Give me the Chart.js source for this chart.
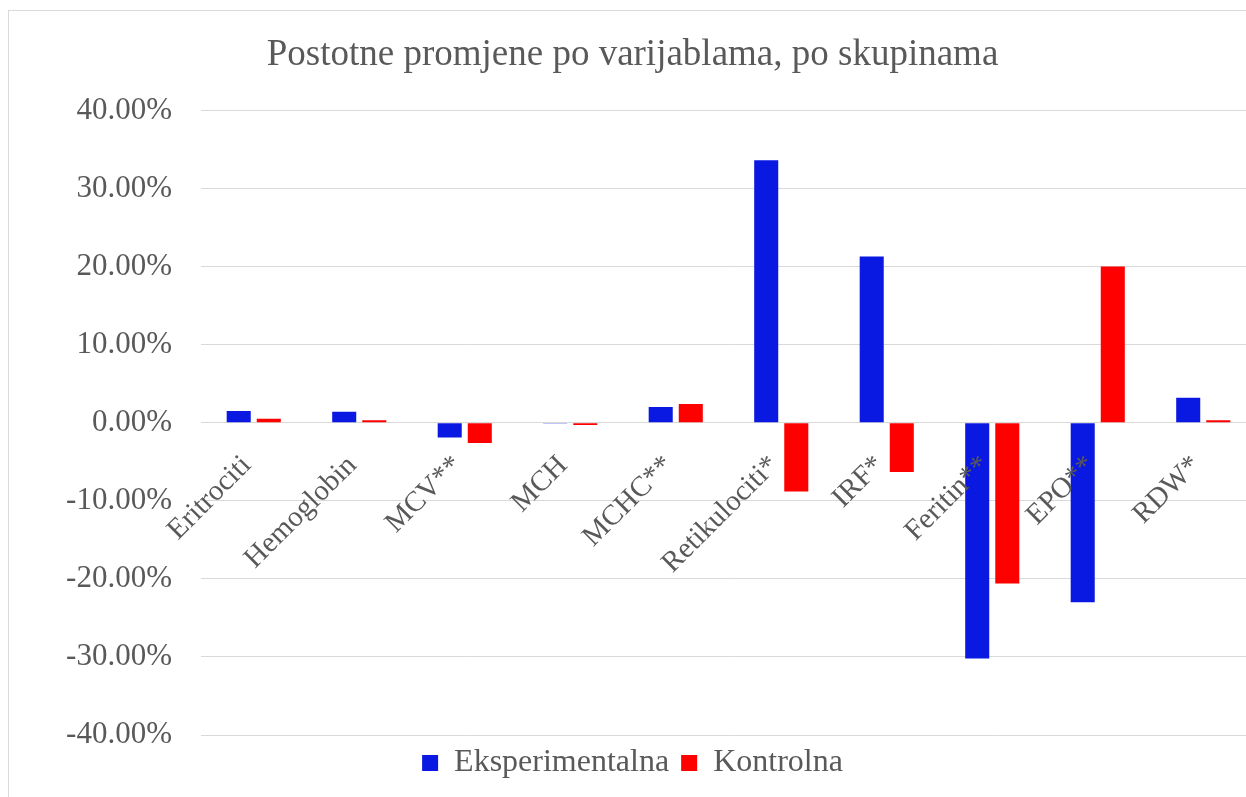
<!DOCTYPE html>
<html>
<head>
<meta charset="utf-8">
<script src="https://cdn.jsdelivr.net/npm/chart.js@4.4.1/dist/chart.umd.min.js"></script>
<style>
  html, body { margin: 0; padding: 0; background: #fff; overflow: hidden; }
  #wrap { position: absolute; left: 8px; top: 10px; border: 1px solid #d9d9d9; width: 1262px; height: 786px; }
  canvas { display: block; }
</style>
</head>
<body>
<div id="wrap"><canvas id="chart" width="1262" height="786"></canvas></div>
<script>
const categories = ['Eritrociti', 'Hemoglobin', 'MCV**', 'MCH', 'MCHC**', 'Retikulociti*', 'IRF*', 'Feritin**', 'EPO**', 'RDW*'];
const eksperimentalna = [1.5, 1.4, -1.9, -0.05, 2.0, 33.6, 21.3, -30.2, -23.0, 3.2];
const kontrolna = [0.5, 0.3, -2.6, -0.3, 2.4, -8.8, -6.3, -20.6, 20.0, 0.3];
const seriesNames = ['Eksperimentalna', 'Kontrolna'];
const yMin = -40, yMax = 40, yStep = 10;

const font = '"Liberation Serif", "Times New Roman", serif';
const textColor = '#595959';
const gridColor = '#d9d9d9';

const ctx = document.getElementById('chart').getContext('2d');

new Chart(ctx, {
  type: 'bar',
  data: {
    labels: categories,
    datasets: [
      {
        label: seriesNames[0],
        data: eksperimentalna,
        backgroundColor: '#0a19e1',
        barPercentage: 0.8,
        categoryPercentage: 0.57
      },
      {
        label: seriesNames[1],
        data: kontrolna,
        backgroundColor: '#ff0000',
        barPercentage: 0.8,
        categoryPercentage: 0.57
      }
    ]
  },
  options: {
    responsive: false,
    animation: false,
    layout: {
      padding: { left: 0, right: 15, top: 0, bottom: 8 }
    },
    scales: {
      x: {
        position: { y: 0 },
        grid: { display: false },
        border: { display: true, color: gridColor },
        ticks: {
          z: 1,
          autoSkip: false,
          minRotation: 45,
          maxRotation: 45,
          padding: 18,
          labelOffset: -7,
          color: textColor,
          font: { family: font, size: 29 }
        }
      },
      y: {
        min: yMin,
        max: yMax,
        afterFit: function(scale) { scale.width = 192; },
        grid: { color: gridColor, drawTicks: false },
        border: { display: false },
        ticks: {
          stepSize: yStep,
          padding: 29,
          color: textColor,
          font: { family: font, size: 31 },
          callback: function(value) {
            return value.toFixed(2) + '%';
          }
        }
      }
    },
    plugins: {
      title: {
        display: true,
        text: 'Postotne promjene po varijablama, po skupinama',
        color: textColor,
        font: { family: font, size: 37, weight: 'normal', lineHeight: 1.2 },
        padding: { top: 22, bottom: 33 }
      },
      legend: {
        position: 'bottom',
        labels: {
          color: textColor,
          font: { family: font, size: 32 },
          boxWidth: 16,
          boxHeight: 16,
          padding: 12
        }
      },
      tooltip: { enabled: false }
    }
  }
});
</script>
</body>
</html>
